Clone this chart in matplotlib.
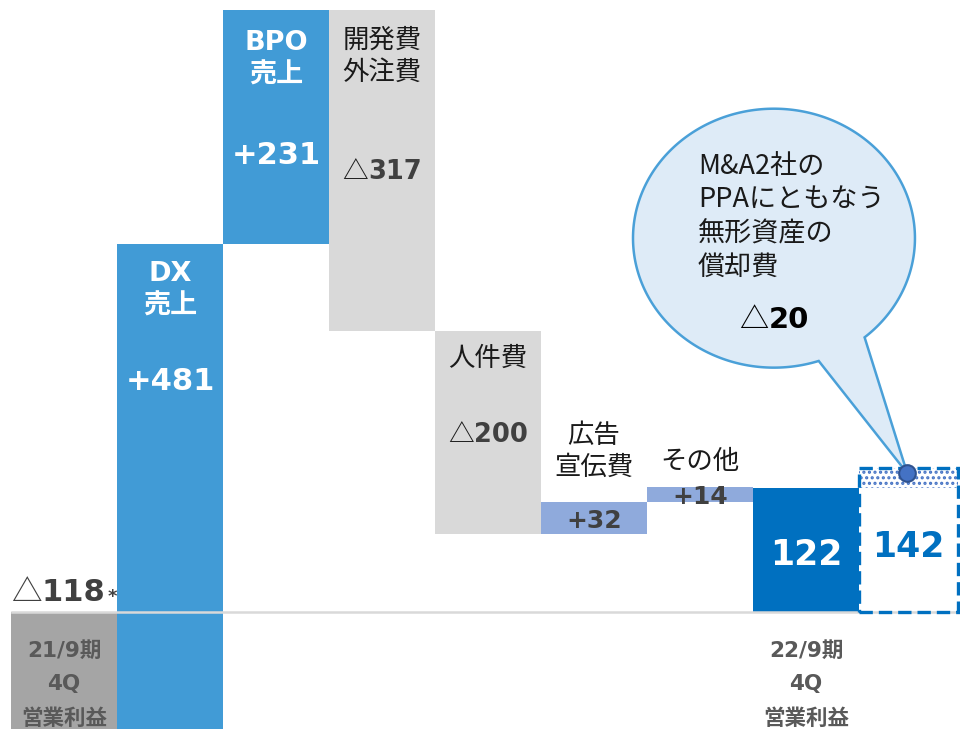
import matplotlib
matplotlib.use("Agg")
import matplotlib.pyplot as plt
import numpy as np
from matplotlib.patches import Rectangle, PathPatch
from matplotlib.path import Path

# ---------------- data ----------------
start_value = -118
steps = [481, 231, -317, -200, 32, 14]
end_value = 122
adjusted_value = 142
ppa_amort = 20

step_labels = ["DX\n売上", "BPO\n売上", "開発費\n外注費", "人件費", "広告\n宣伝費", "その他"]
start_label = "21/9期\n4Q\n営業利益"
end_label = "22/9期\n4Q\n営業利益"
callout_text = "M&A2社の\nPPAにともなう\n無形資産の\n償却費"

# ---------------- style ----------------
C_START = "#a5a5a5"
C_SALES = "#419bd6"
C_COST = "#d9d9d9"
C_SMALL = "#8faadc"
C_END = "#0070c0"
C_DARK = "#404040"
C_GRAYTXT = "#595959"

JP = ["Noto Sans CJK JP", "DejaVu Sans"]
NUM = ["DejaVu Sans", "Noto Sans CJK JP"]

plt.rcParams["hatch.linewidth"] = 1.5

fig = plt.figure(figsize=(9.6, 7.29), dpi=100)
ax = fig.add_axes([0, 0, 1, 1])
ax.set_xlim(-0.604, 8.453)
ax.set_ylim(-115.5, 604.1)
ax.axis("off")

def pts(px):
    return px * 0.72

# cumulative
levels = [start_value]
for s in steps:
    levels.append(levels[-1] + s)

# start bar
ax.bar(0, start_value, width=1.0, color=C_START, zorder=2)

step_colors = [C_SALES, C_SALES, C_COST, C_COST, C_SMALL, C_SMALL]
for i, s in enumerate(steps):
    ax.bar(i + 1, s, bottom=levels[i], width=1.0, color=step_colors[i], zorder=2)

# end bar
ax.bar(7, end_value, width=1.0, color=C_END, zorder=2)

# adjusted bar (dashed outline) + hatched PPA portion
x8_left = 7.5
w8 = 0.93
ax.bar(x8_left, ppa_amort, bottom=adjusted_value - ppa_amort, width=w8, align="edge",
       color="white", edgecolor="#4472c4", hatch="...", linewidth=0, zorder=2)
ax.add_patch(Rectangle((x8_left, 0), w8, adjusted_value, fill=False,
                       edgecolor=C_END, linewidth=2.4, linestyle=(0, (4.0, 1.8)),
                       zorder=4))
# baseline
ax.axhline(0, xmin=0.012, xmax=1, color="#d9d9d9", linewidth=1.8, zorder=3)

# -------- helper for "△nnn" labels --------
renderer = fig.canvas.get_renderer()
tri_groups = []

def tri_label(x, y, num, size, color, tri_color=None, align="center", dx_px=0, dy_px=0,
              tri_scale=1.0):
    t1 = ax.annotate("△", xy=(x, y), xytext=(0, pts(dy_px)), textcoords="offset points",
                     ha="left", va="center", fontsize=size * tri_scale, family=JP,
                     color=tri_color or color, zorder=6)
    t2 = ax.annotate(num, xy=(x, y), xytext=(0, pts(dy_px)), textcoords="offset points",
                     ha="left", va="center", fontsize=size, family=NUM, weight="bold",
                     color=color, zorder=6)
    tri_groups.append((t1, t2, align, dx_px, dy_px))
    return t1, t2

def layout_tris():
    for t1, t2, align, dx_px, dy_px in tri_groups:
        w1 = t1.get_window_extent(renderer).width
        w2 = t2.get_window_extent(renderer).width
        total = w1 + w2
        x0 = (-total / 2 + dx_px) if align == "center" else dx_px
        t1.xyann = (pts(x0), pts(dy_px))
        t2.xyann = (pts(x0 + w1), pts(dy_px))

def label_at(x, y, text, dy_px, size, color, weight="normal", family=JP, ls=1.25):
    return ax.annotate(text, xy=(x, y), xytext=(0, pts(dy_px)), textcoords="offset points",
                       ha="center", va="center", fontsize=size, color=color, weight=weight,
                       family=family, linespacing=ls, zorder=6)

# start value label
t1, t2 = tri_label(-0.5, 0, str(abs(start_value)), 22, C_DARK, align="left",
                   dx_px=0, dy_px=19)
star = ax.annotate("*", xy=(-0.5, 0), xytext=(0, 0), textcoords="offset points",
                   ha="left", va="center", fontsize=13, color=C_DARK, family=NUM,
                   weight="bold", zorder=6)

# start / end category labels below baseline
label_at(0, 0, start_label, -73, 15.5, C_GRAYTXT, weight="bold", family=NUM, ls=1.85)
label_at(7, 0, end_label, -73, 15.5, C_GRAYTXT, weight="bold", family=NUM, ls=1.85)

# DX
top = levels[1]
label_at(1, top, step_labels[0], -46, 19.5, "white", weight="bold", family=NUM, ls=1.36)
label_at(1, top, "+%d" % steps[0], -137, 22, "white", weight="bold", family=NUM)
# BPO
top = levels[2]
label_at(2, top, step_labels[1], -49, 19.5, "white", weight="bold", family=NUM, ls=1.32)
label_at(2, top, "+%d" % steps[1], -145, 22, "white", weight="bold", family=NUM)
# 開発費外注費
top = levels[2]
label_at(3, top, step_labels[2], -46, 19, "#1a1a1a", ls=1.27)
tri_label(3, top, str(abs(steps[2])), 18.5, C_DARK, tri_color="#1a1a1a", dy_px=-162)
# 人件費
top = levels[3]
label_at(4, top, step_labels[3], -27, 19, "#1a1a1a")
tri_label(4, top, str(abs(steps[3])), 18.5, C_DARK, tri_color="#1a1a1a", dy_px=-104)
# 広告宣伝費
top = levels[5]
lo = levels[4]
label_at(5, top, step_labels[4], 50, 19, "#1a1a1a", ls=1.2)
label_at(5, (top + lo) / 2, "+%d" % steps[4], -3, 18, C_DARK, weight="bold", family=NUM)
# その他
top = levels[6]
lo = levels[5]
label_at(6, top, step_labels[5], 26, 19, "#1a1a1a")
label_at(6, (top + lo) / 2, "+%d" % steps[5], -3, 18, C_DARK, weight="bold", family=NUM)

# end values
label_at(7, end_value / 2, str(end_value), -5, 25, "white", weight="bold", family=NUM)
label_at(x8_left + w8 / 2, end_value / 2, str(adjusted_value), 3, 25, C_END,
         weight="bold", family=NUM)

# -------- callout --------
cx, cy = 6.698, 369.0
a, b = 1.33, 127.8
tip = (x8_left + w8 / 2 - 0.01, adjusted_value - 5)
th1 = np.deg2rad(-50.0)
th2 = np.deg2rad(288.5)
th = np.linspace(th1, th2, 300)
verts = list(zip(cx + a * np.cos(th), cy + b * np.sin(th)))
verts.append(tip)
verts.append(verts[0])
codes = [Path.MOVETO] + [Path.LINETO] * (len(verts) - 2) + [Path.CLOSEPOLY]
ax.add_patch(PathPatch(Path(verts, codes), facecolor="#deebf7", edgecolor="#4aa0d8",
                       linewidth=1.8, zorder=7, joinstyle="miter"))
ax.annotate(callout_text, xy=(cx, cy), xytext=(pts(-76), pts(21)),
            textcoords="offset points", ha="left", va="center", fontsize=19.5,
            family=JP, color="#1a1a1a", linespacing=1.32, zorder=8)
ctri = tri_label(cx, cy, str(ppa_amort), 21, "black", dy_px=-82)
for t in ctri:
    t.set_zorder(8)

# dot at tip
ax.plot([tip[0]], [tip[1]], marker="o", markersize=12, markerfacecolor="#4472c4",
        markeredgecolor="#2f528f", markeredgewidth=1.5, zorder=9, linestyle="none")

# layout △ groups
fig.canvas.draw()
layout_tris()
fig.canvas.draw()
bb = t2.get_window_extent(renderer)
x_star_px = bb.x1 - ax.transData.transform((-0.5, 0))[0] + 2
star.xyann = (pts(x_star_px), pts(15))

fig.savefig("out.png", dpi=100)
